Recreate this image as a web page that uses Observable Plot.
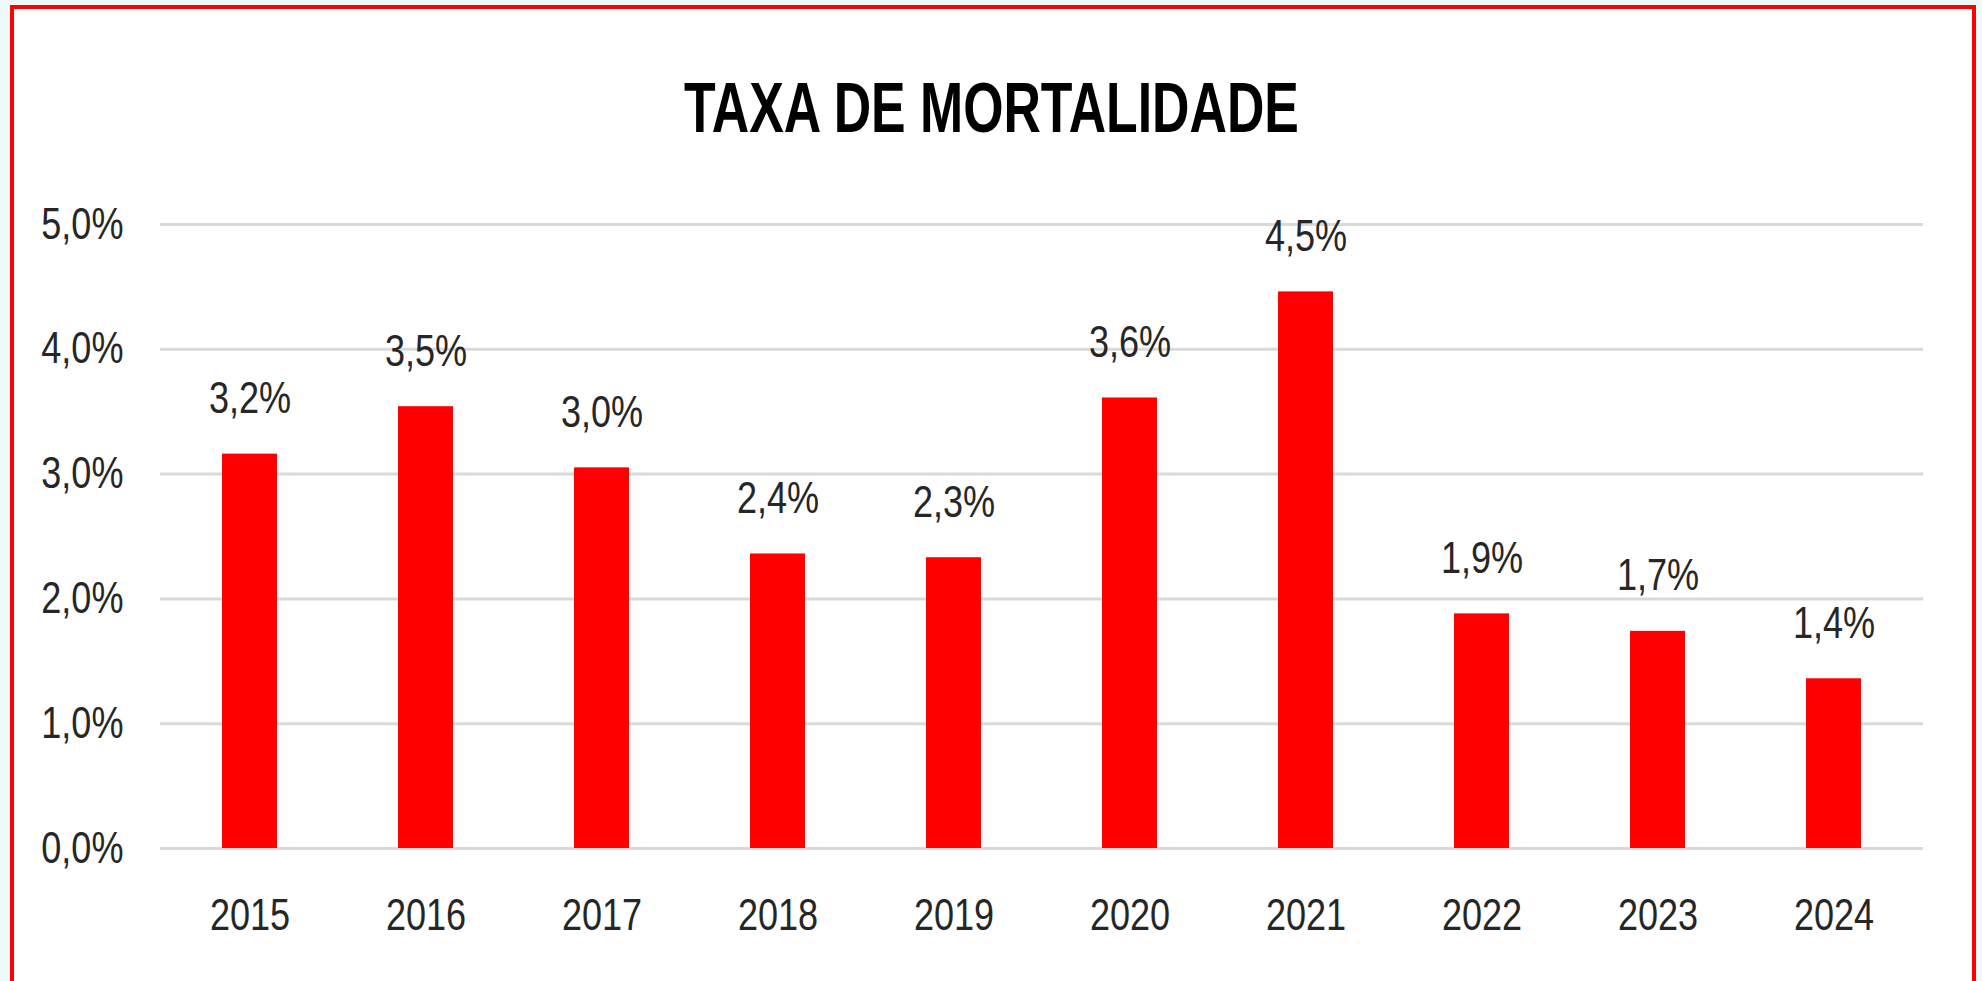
<!DOCTYPE html>
<html>
<head>
<meta charset="utf-8">
<script src="https://cdn.jsdelivr.net/npm/d3@7"></script>
<script src="https://cdn.jsdelivr.net/npm/@observablehq/plot@0.6"></script>
<style>
  html, body { margin: 0; padding: 0; width: 1982px; height: 981px; overflow: hidden; background: #eef9fc; }
  #frame { position: absolute; left: 10px; top: 5px; width: 1958px; height: 1000px; border: 4px solid #ff0000; border-bottom: none; background: #ffffff; }
  #title { position: absolute; left: 0; top: 76px; width: 1982px; text-align: center; white-space: nowrap; }
  #title span { display: inline-block; transform: scaleX(0.74); transform-origin: 50% 50%; font-family: "Liberation Sans", Arial, sans-serif; font-weight: bold; font-size: 70px; line-height: 64px; color: #000; }
  #chart { position: absolute; left: 0; top: 150px; width: 1982px; }
  #chart svg { background: transparent; max-width: none; }
</style>
</head>
<body>
<div id="frame"></div>
<div id="title"><span>TAXA DE MORTALIDADE</span></div>
<div id="chart"></div>
<script>
const years = ["2015", "2016", "2017", "2018", "2019", "2020", "2021", "2022", "2023", "2024"];
const rates = [3.16, 3.54, 3.05, 2.36, 2.33, 3.61, 4.46, 1.88, 1.74, 1.36];
const yTicks = [0, 1, 2, 3, 4, 5];

const fmt = v => v.toFixed(1).replace(".", ",") + "%";
const data = years.map((year, i) => ({year, rate: rates[i]}));

const FONT = '"Liberation Sans", Arial, sans-serif';
const TEXT = "#262626";

const chart = Plot.plot({
  width: 1982,
  height: 831,
  marginLeft: 160,
  marginRight: 59,
  marginTop: 74,
  marginBottom: 133,
  style: {fontFamily: FONT, fontSize: "44px", color: TEXT, background: "transparent"},
  x: {domain: years, paddingInner: 0.685, paddingOuter: 0.3425, label: null},
  y: {domain: [0, 5], label: null},
  axis: null,
  marks: [
    Plot.ruleY(yTicks, {stroke: "#d9d9d9", strokeWidth: 3}),
    Plot.axisY(yTicks, {tickSize: 0, tickPadding: 37, tickFormat: fmt, fontSize: 44, fill: TEXT, label: null}),
    Plot.axisX({tickSize: 0, tickPadding: 50, fontSize: 44, fill: TEXT, label: null}),
    Plot.barY(data, {x: "year", y: "rate", fill: "#ff0000"}),
    Plot.text(data, {x: "year", y: "rate", text: d => fmt(d.rate), lineAnchor: "bottom", dy: -41, fontSize: 44, fill: TEXT})
  ]
});

// narrow the glyphs horizontally around each label's anchor (condensed look of the original)
const SX = 0.82;
chart.querySelectorAll("text").forEach(t => {
  const tr = t.getAttribute("transform");
  if (tr) {
    t.setAttribute("transform", tr + ` scale(${SX},1)`);
    const x = t.getAttribute("x");
    if (x && !isNaN(+x)) t.setAttribute("x", (+x) / SX);
  } else {
    const x = +(t.getAttribute("x") || 0);
    t.setAttribute("transform", `translate(${x},0) scale(${SX},1) translate(${-x},0)`);
  }
});

document.getElementById("chart").appendChild(chart);
</script>
</body>
</html>
